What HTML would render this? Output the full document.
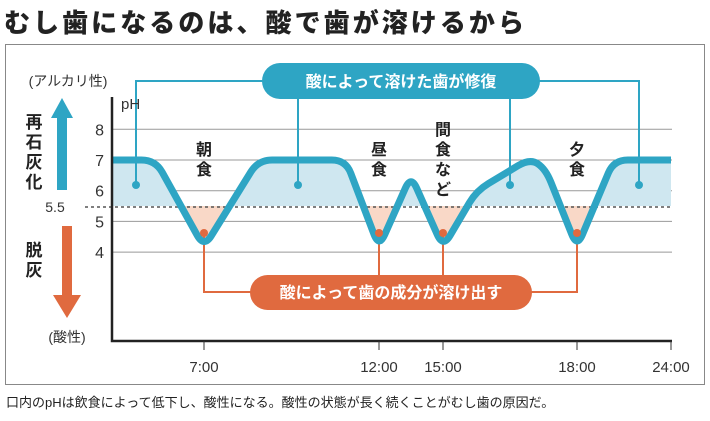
<!DOCTYPE html>
<html><head><meta charset="utf-8"><style>
body{margin:0;background:#fff;width:710px;height:416px;overflow:hidden}
svg text{font-family:"Liberation Sans","Noto Sans CJK JP",sans-serif}
</style></head><body>
<svg width="710" height="416" viewBox="0 0 710 416">
<text x="4" y="32" font-size="26" font-weight="900" fill="#222" textLength="520">むし歯になるのは、酸で歯が溶けるから</text>
<rect x="5.5" y="44.5" width="699" height="340" fill="none" stroke="#888" stroke-width="1"/>
<g id="grid"></g>
<g id="fills"></g>
<line x1="85" y1="207" x2="672" y2="207" stroke="#555" stroke-width="1.5" stroke-dasharray="3,3"/>
<g id="callouts"></g>
<g id="curve"></g>
<g id="dots"></g>
<g id="axes"></g>
<text x="68" y="86" font-size="14" fill="#333" text-anchor="middle">(アルカリ性)</text>
<text x="67" y="342" font-size="14" fill="#333" text-anchor="middle">(酸性)</text>
<text x="121" y="109" font-size="15" fill="#333">pH</text>
<polygon points="62,98 51,118 57,118 57,190 67,190 67,118 73,118" fill="#2ea5c4"/>
<polygon points="67,318 53,295 62,295 62,226 72,226 72,295 81,295" fill="#e06a3f"/>
<g font-size="17" font-weight="bold" fill="#222" text-anchor="middle">
<text x="34" y="128"><tspan x="34">再</tspan><tspan x="34" dy="20">石</tspan><tspan x="34" dy="20">灰</tspan><tspan x="34" dy="20">化</tspan></text>
<text x="34" y="256"><tspan x="34">脱</tspan><tspan x="34" dy="20">灰</tspan></text>
</g>
<text x="55" y="212" font-size="14" fill="#333" text-anchor="middle">5.5</text>
<text x="6" y="407" font-size="13" fill="#222">口内のpHは飲食によって低下し、酸性になる。酸性の状態が長く続くことがむし歯の原因だ。</text>
</svg>
<script>
const phTicks=[8,7,6,5,4];
const timeTicks=[7,12,15,18,24];
const timeLabels=["7:00","12:00","15:00","18:00","24:00"];
const curveTimes=[0,3.3,7.0,8.55,11.05,12.0,13.5,15.0,15.75,16.95,17.3,18.0,20.35,24];
const curvePH=[7,7,4.15,7,7,4.15,6.5,4.15,6.0,7.05,6.7,4.15,7,7];
const threshold=5.5;
const NS="http://www.w3.org/2000/svg";
const tKnots=[0,7,12,15,18,24], xKnots=[112,204,379,443,577,671];
function xs(t){for(let i=1;i<tKnots.length;i++){if(t<=tKnots[i]){const f=(t-tKnots[i-1])/(tKnots[i]-tKnots[i-1]);return xKnots[i-1]+f*(xKnots[i]-xKnots[i-1]);}}return xKnots[xKnots.length-1];}
function ys(p){return 160-(p-7)*30.7;}
function mk(tag,attrs,parent){const e=document.createElementNS(NS,tag);for(const k in attrs)e.setAttribute(k,attrs[k]);parent.appendChild(e);return e;}
const grid=document.getElementById('grid');
phTicks.forEach(p=>{
 const l=mk('line',{x1:112,x2:672,y1:ys(p),y2:ys(p),stroke:'#999','stroke-width':1},grid);
 
 
 const t=mk('text',{x:104,y:ys(p)+6,'font-size':16,fill:'#333','text-anchor':'end'},grid);
 t.textContent=p;
 
 
});
const pts=curveTimes.map((t,i)=>[xs(t),ys(curvePH[i])]);
function roundedPath(p,r){
 let d=`M${p[0][0]},${p[0][1]}`;
 for(let i=1;i<p.length-1;i++){
  const [x0,y0]=p[i-1],[x1,y1]=p[i],[x2,y2]=p[i+1];
  const l1=Math.hypot(x1-x0,y1-y0),l2=Math.hypot(x2-x1,y2-y1);
  const r1=Math.min(r,l1/2),r2=Math.min(r,l2/2);
  const ax=x1-(x1-x0)/l1*r1,ay=y1-(y1-y0)/l1*r1;
  const bx=x1+(x2-x1)/l2*r2,by=y1+(y2-y1)/l2*r2;
  d+=` L${ax},${ay} Q${x1},${y1} ${bx},${by}`;
 }
 const q=p[p.length-1];d+=` L${q[0]},${q[1]}`;return d;
}
const ty=ys(threshold);
const curveD=roundedPath(pts,14);
const fills=document.getElementById('fills');
const defs=mk('defs',{},fills);
const ca=mk('clipPath',{id:'above'},defs);mk('rect',{x:0,y:0,width:710,height:ty},ca);
const cb=mk('clipPath',{id:'below'},defs);mk('rect',{x:0,y:ty,width:710,height:416},cb);
const areaD=curveD+` L${pts[pts.length-1][0]},${ty} L${pts[0][0]},${ty} Z`;
const fa=mk('path',{d:areaD,fill:'#cfe7f0','clip-path':'url(#above)'},fills);


const fb=mk('path',{d:areaD,fill:'#f9d8c7','clip-path':'url(#below)'},fills);


const cv=document.getElementById('curve');
const line=mk('path',{d:curveD,fill:'none',stroke:'#2ea5c4','stroke-width':7,'stroke-linejoin':'round'},cv);


const meals=[[7,["朝","食"],155],[12,["昼","食"],155],[15,["間","食","な","ど"],135],[18,["夕","食"],155]];
meals.forEach(m=>{
 const t=mk('text',{'font-size':16,'font-weight':'bold',fill:'#222','text-anchor':'middle'},cv);
 
 
 m[1].forEach((c,i)=>{const s=mk('tspan',{x:xs(m[0]),y:m[2]+i*20},t);s.textContent=c;});
});
const co=document.getElementById('callouts');
const dots=document.getElementById('dots');
const blue='#2ea5c4',org='#e06a3f';
[[`M136,185 V81 H270`],[`M298,185 V95`],[`M510,185 V95`],[`M530,81 H639 V185`]].forEach(d=>{const p=mk('path',{d:d[0],fill:'none',stroke:blue,'stroke-width':2},co);});
[136,298,510,639].forEach(x=>{const c=mk('circle',{cx:x,cy:185,r:4,fill:blue},dots);});
[[`M204,233 V292 H260`],[`M379,233 V280`],[`M443,233 V280`],[`M520,292 H577 V233`]].forEach(d=>{const p=mk('path',{d:d[0],fill:'none',stroke:org,'stroke-width':2},co);});
[204,379,443,577].forEach(x=>{const c=mk('circle',{cx:x,cy:233,r:4,fill:org},dots);});
const p1=mk('rect',{x:262,y:63,width:278,height:36,rx:18,fill:blue},co);


const t1=mk('text',{x:401,y:87,'font-size':16,'font-weight':'bold',fill:'#fff','text-anchor':'middle'},co);t1.textContent='酸によって溶けた歯が修復';


const p2=mk('rect',{x:250,y:275,width:282,height:35,rx:17.5,fill:org},co);


const t2=mk('text',{x:391,y:298,'font-size':16,'font-weight':'bold',fill:'#fff','text-anchor':'middle'},co);t2.textContent='酸によって歯の成分が溶け出す';


const ax=document.getElementById('axes');
const a=mk('path',{d:'M112,97 V341 H672',fill:'none',stroke:'#222','stroke-width':2.5},ax);


timeTicks.forEach((t,i)=>{
 const l=mk('line',{x1:xs(t),x2:xs(t),y1:341,y2:350,stroke:'#333','stroke-width':1},ax);
 
 
 const tx=mk('text',{x:xs(t),y:372,'font-size':15,fill:'#333','text-anchor':'middle'},ax);
 tx.textContent=timeLabels[i];
 
 
});
</script>
</body></html>
